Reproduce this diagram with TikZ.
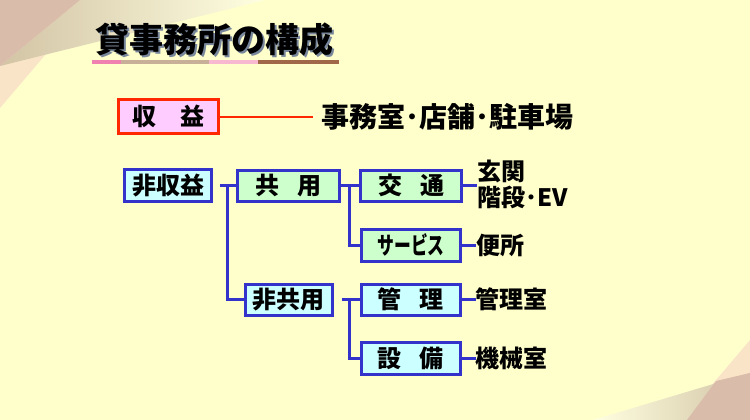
\documentclass[tikz,border=0pt]{standalone}
\usepackage{fontspec}
\newfontfamily\jpfont{Noto Sans CJK JP}
\newfontfamily\jpnarrow{Noto Sans CJK JP}[FakeStretch=0.7]
\usetikzlibrary{positioning}
\definecolor{bgyellow}{RGB}{255,255,204}
\definecolor{lineblue}{RGB}{51,51,204}
\definecolor{linered}{RGB}{255,40,0}
\definecolor{fillpink}{RGB}{255,204,255}
\definecolor{fillcyan}{RGB}{204,255,255}
\definecolor{fillgreen}{RGB}{204,255,204}
\definecolor{shadowgray}{RGB}{120,135,155}
\definecolor{cornerpeach}{RGB}{250,228,200}
\definecolor{cornermauve}{RGB}{218,188,170}
\definecolor{cornertan}{RGB}{210,196,165}
\definecolor{ulpink}{RGB}{240,128,176}
\definecolor{ultan}{RGB}{200,176,152}
\definecolor{ullightpink}{RGB}{248,184,208}
\definecolor{ulbrown}{RGB}{160,104,72}
\newcommand\gap{\hspace{18pt}}

\begin{document}
\begin{tikzpicture}[
  x=1pt, y=-1pt,
  font=\jpfont\bfseries\fontsize{24}{26}\selectfont,
  box/.style={draw=lineblue, line width=3pt, inner sep=0pt,
              minimum width=99pt, minimum height=31pt},
  redbox/.style={box, draw=linered, fill=fillpink},
  cyanbox/.style={box, fill=fillcyan},
  greenbox/.style={box, fill=fillgreen},
  lbl/.style={inner sep=0pt, align=left},
  link/.style={draw=lineblue, line width=3pt},
  redlink/.style={draw=linered, line width=2pt}
]
% background and corners
\useasboundingbox (0,0) rectangle (750,420);
\fill[bgyellow] (0,0) rectangle (750,420);
\fill[cornerpeach] (0,0) -- (92,0) -- (0,108) -- cycle;
\shade[left color=cornertan, right color=bgyellow!60!white] (80,0) -- (265,0) -- (0,66) -- cycle;
\fill[cornermauve] (0,0) -- (80,0) -- (0,66) -- cycle;
\fill[cornerpeach] (750,340) -- (750,420) -- (682,420) -- cycle;
\shade[left color=bgyellow!60!white, right color=cornertan] (750,373) -- (750,420) -- (593,420) -- cycle;
\fill[cornermauve] (750,373) -- (750,420) -- (687,420) -- (716,381) -- cycle;

% title
\node[font=\jpfont\bfseries\fontsize{34}{36}\selectfont, text=shadowgray] (titleshadow) at (216,42) {貸事務所の構成};
\node[font=\jpfont\bfseries\fontsize{34}{36}\selectfont] (title) at (214,40) {貸事務所の構成};
\foreach \a/\b/\c in {92/121/ulpink, 121/209/ultan, 209/258/ullightpink, 258/339/ulbrown}
  \draw[\c, line width=4pt] (\a,62) -- (\b,62);

% boxes
\node[redbox, minimum width=100pt, minimum height=34pt] (shueki) at (168.5,116.5) {収　益};
\node[cyanbox, minimum width=87pt, minimum height=32pt] (hishueki) at (168,185.5) {非収益};
\node[greenbox, right=23pt of hishueki, minimum width=102pt] (kyoyo) {共\gap 用};
\node[greenbox, right=18pt of kyoyo, minimum width=101pt] (kotsu) {交\gap 通};
\node[greenbox, below=25pt of kotsu, minimum height=32pt] (service) {\jpnarrow\bfseries サービス};
\node[cyanbox, below=80pt of kyoyo, minimum width=87pt] (hikyoyo) {非共用};
\node[cyanbox, right=26pt of hikyoyo] (kanri) {管\gap 理};
\node[cyanbox, below=24pt of kanri, minimum height=32pt] (setsubi) {設\gap 備};

% labels
\node[lbl, right=101pt of shueki, font=\jpfont\bfseries\fontsize{28}{30}\selectfont] (jimu) {事務室･店舗･駐車場};
\node[lbl, right=14pt of kotsu, yshift=1pt] (genkan) {玄関\\階段･EV};
\node[lbl, right=14pt of service] (benjo) {便所};
\node[lbl, right=14pt of kanri] (kanrishitsu) {管理室};
\node[lbl, right=14pt of setsubi] (kikai) {機械室};

% connectors
\draw[redlink] (shueki.east) -- ([xshift=-8pt]jimu.west);
\draw[link] ([xshift=7pt]hishueki.east) -- (kyoyo.west);
\draw[link] ([xshift=14pt]hishueki.east) |- (hikyoyo.west);
\draw[link] (kyoyo.east) -- (kotsu.west);
\draw[link] ([xshift=8pt]kyoyo.east) |- (service.west);
\draw[link] ([xshift=8pt]hikyoyo.east) -- (kanri.west);
\draw[link] ([xshift=16pt]hikyoyo.east) |- (setsubi.west);
\draw[link] (kotsu.east) -- (kotsu.east -| genkan.west);
\draw[link] (service.east) -- (benjo.west);
\draw[link] (kanri.east) -- (kanrishitsu.west);
\draw[link] (setsubi.east) -- (kikai.west);
\end{tikzpicture}
\end{document}
